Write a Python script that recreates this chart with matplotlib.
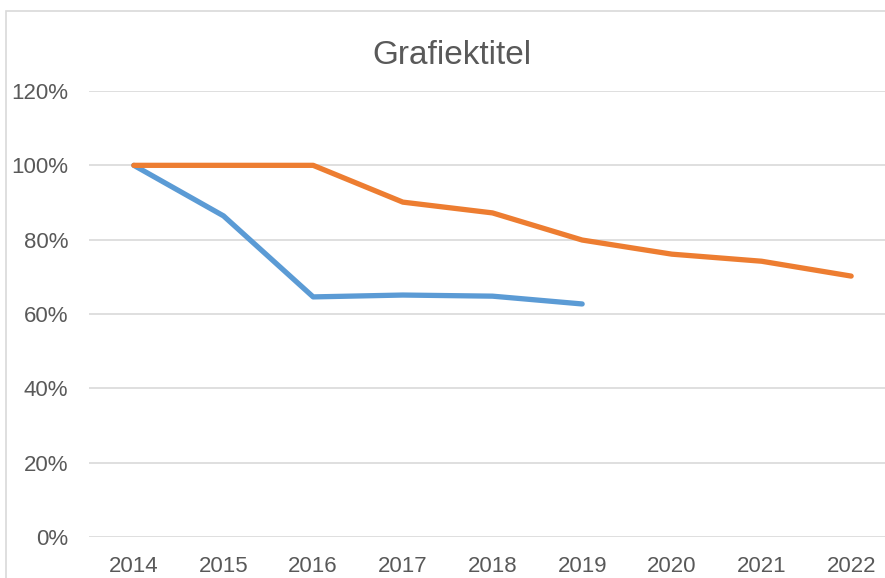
import matplotlib
matplotlib.use("Agg")
import matplotlib.pyplot as plt
import matplotlib.patches as mpatches
from matplotlib.ticker import FuncFormatter, MultipleLocator

# data
years = [2014, 2015, 2016, 2017, 2018, 2019, 2020, 2021, 2022]
series_blue = [1.00, 0.864, 0.646, 0.651, 0.648, 0.627]
series_orange = [1.00, 1.00, 1.00, 0.901, 0.872, 0.799, 0.761, 0.742, 0.702]
title = "Grafiektitel"

BLUE = "#5B9BD5"
ORANGE = "#ED7D31"
TEXT = "#595959"
GRID = "#D9D9D9"
FONT = ["Liberation Sans Narrow", "Liberation Sans", "DejaVu Sans"]

plt.rcParams['font.family'] = FONT

W, H = 885, 578
fig = plt.figure(figsize=(W / 100, H / 100), dpi=100)

# chart border (cropped on the right and bottom in the reference)
fig.patches.append(mpatches.Rectangle(
    (6 / W, -0.1), 1.2, (H - 11) / H + 0.1,
    transform=fig.transFigure, fill=False, edgecolor=GRID, linewidth=1.2,
))

# plot area: category axis runs past the right edge of the picture
left_px, right_px = 89, 896
bottom_px, top_px = 537, 91
ax = fig.add_axes([left_px / W, (H - bottom_px) / H,
                   (right_px - left_px) / W, (bottom_px - top_px) / H])
ax.set_clip_on(False)

x = list(range(len(years)))
line_kw = dict(linewidth=3.8, solid_capstyle='round', solid_joinstyle='round')
ax.plot(x[:len(series_blue)], series_blue, color=BLUE, **line_kw)
ax.plot(x, series_orange, color=ORANGE, **line_kw)

ax.set_xlim(-0.5, len(years) - 0.5)
ax.set_ylim(0, 1.2)
ax.yaxis.set_major_locator(MultipleLocator(0.2))
ax.yaxis.set_major_formatter(FuncFormatter(lambda v, _: f"{v * 100:.0f}%"))
ax.set_xticks(x)
ax.set_xticklabels([str(y) for y in years])

ax.grid(axis='y', color=GRID, linewidth=1.2)
ax.set_axisbelow(True)
for s in ax.spines.values():
    s.set_visible(False)
ax.tick_params(axis='both', length=0, labelsize=16, labelcolor=TEXT)
ax.tick_params(axis='y', pad=15)
ax.tick_params(axis='x', pad=14)

fig.text(452 / W, (H - 55) / H, title, ha='center', va='center',
         fontsize=24, color=TEXT)

fig.savefig("out.png", dpi=100)
